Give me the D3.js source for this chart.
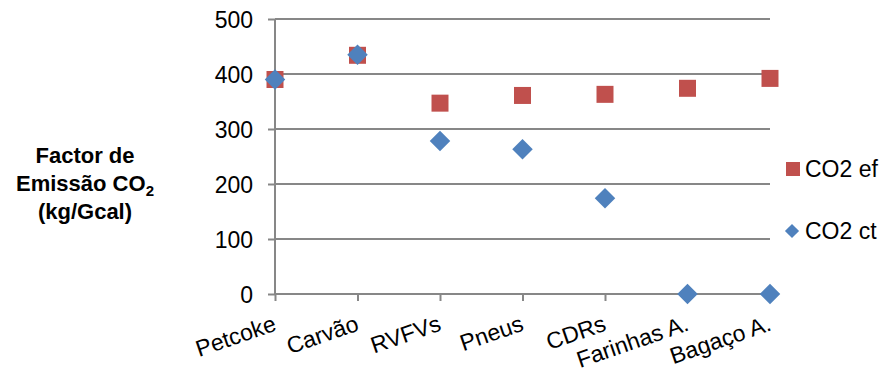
<!DOCTYPE html>
<html>
<head>
<meta charset="utf-8">
<script src="https://cdn.jsdelivr.net/npm/d3@7"></script>
<style>
  html, body { margin: 0; padding: 0; background: #fff; }
  svg { display: block; font-family: "Liberation Sans", Arial, sans-serif; }
</style>
</head>
<body>
<svg id="chart" width="882" height="373"></svg>
<script>
// Emission factors per fuel (kg CO2 / Gcal)
const categories = ["Petcoke", "Carvão", "RVFVs", "Pneus", "CDRs", "Farinhas A.", "Bagaço A."];
const co2Ef = [390, 434, 347, 361, 363, 374, 392];
const co2Ct = [390, 435, 278, 263, 174, 0, 0];
const yTicks = [0, 100, 200, 300, 400, 500];
const seriesNames = ["CO2 ef", "CO2 ct"];

const red = "#C0504D", blue = "#4F81BD", grid = "#878787";
const font = "Liberation Sans, Arial, sans-serif";

const svg = d3.select("#chart");
const x = d3.scalePoint().domain(categories).range([275, 770]).padding(0);
const y = d3.scaleLinear().domain([0, 500]).range([294, 19]);

// horizontal gridlines
svg.append("g").selectAll("line").data(yTicks.filter(d => d > 0)).join("line")
  .attr("x1", 275).attr("x2", 770)
  .attr("y1", d => y(d)).attr("y2", d => y(d))
  .attr("stroke", grid).attr("stroke-width", 2);

// y axis
const yAxis = svg.append("g").attr("transform", "translate(275,0)")
  .call(d3.axisLeft(y).tickValues(yTicks).tickSize(7).tickPadding(15));
yAxis.select(".domain").attr("stroke", grid).attr("stroke-width", 2).attr("d", `M0,${y(500)}V${y(0)}`);
yAxis.selectAll(".tick line").attr("stroke", grid).attr("stroke-width", 2);
yAxis.selectAll(".tick text").attr("fill", "#000").style("font-size", "23px")
  .attr("font-family", font).attr("dy", "0.35em");

// x axis
const xAxis = svg.append("g").attr("transform", `translate(0,${y(0)})`)
  .call(d3.axisBottom(x).tickSize(7).tickPadding(0));
xAxis.select(".domain").attr("stroke", grid).attr("stroke-width", 2).attr("d", "M275,0H770");
xAxis.selectAll(".tick line").attr("stroke", grid).attr("stroke-width", 2);
xAxis.selectAll(".tick text")
  .attr("fill", "#000").style("font-size", "23px")
  .attr("font-family", font)
  .attr("text-anchor", "end")
  .attr("x", 0).attr("y", 0).attr("dy", 0)
  .attr("transform", "translate(2,36) rotate(-19)");

// y axis title
const title = svg.append("text").attr("text-anchor", "middle")
  .style("font-size", "22px").style("font-weight", "bold").attr("fill", "#000");
title.append("tspan").attr("x", 85).attr("y", 163).text("Factor de");
const l2 = title.append("tspan").attr("x", 85).attr("y", 191);
l2.append("tspan").text("Emissão CO");
l2.append("tspan").attr("dy", 5).style("font-size", "15px").text("2");
title.append("tspan").attr("x", 85).attr("y", 219).text("(kg/Gcal)");

// markers
const square = d3.symbol().type(d3.symbolSquare).size(17 * 17);
const diamond = d3.symbol().type(d3.symbolSquare).size(14.5 * 14.5);

svg.append("g").selectAll("path").data(co2Ef).join("path")
  .attr("d", square)
  .attr("transform", (d, i) => `translate(${x(categories[i])},${y(d)})`)
  .attr("fill", red);

svg.append("g").selectAll("path").data(co2Ct).join("path")
  .attr("d", diamond)
  .attr("transform", (d, i) => `translate(${x(categories[i])},${y(d)}) rotate(45)`)
  .attr("fill", blue);

// legend
const legend = svg.append("g").style("font-size", "23px").attr("fill", "#000");
legend.append("path").attr("d", d3.symbol().type(d3.symbolSquare).size(14 * 14))
  .attr("transform", "translate(793,169)").attr("fill", red);
legend.append("text").attr("x", 805).attr("y", 177).text(seriesNames[0]);
legend.append("path").attr("d", d3.symbol().type(d3.symbolSquare).size(10 * 10))
  .attr("transform", "translate(792,231) rotate(45)").attr("fill", blue);
legend.append("text").attr("x", 805).attr("y", 239).text(seriesNames[1]);
</script>
</body>
</html>
